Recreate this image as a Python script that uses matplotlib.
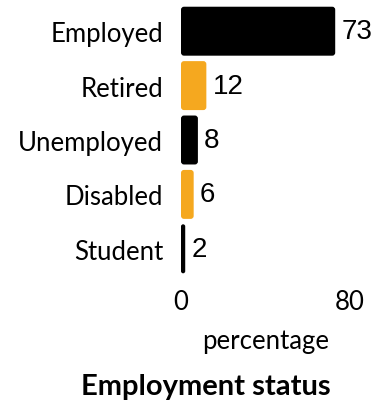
import numpy as np
import matplotlib.pyplot as plt
from matplotlib.patches import FancyBboxPatch

categories = ['Employed', 'Retired', 'Unemployed', 'Disabled', 'Student']
values = [73, 12, 8, 6, 2]
colors = ['#000000', '#F5A81F', '#000000', '#F5A81F', '#000000']

W, H = 380, 402
fig = plt.figure(figsize=(W / 100, H / 100), dpi=100)
ax = fig.add_axes([181 / W, 1 - 277 / H, (350 - 181) / W, 272 / H])

y = np.arange(len(categories))
bars = ax.barh(y, values, height=0.9, color=colors)
ax.set_xlim(0, 80)
ax.set_ylim(len(categories) - 0.5, -0.5)

# swap the plain rectangles for rounded ones
px_x = (350 - 181) / 80
px_y = 272 / 5
for b in bars:
    x0, y0 = b.get_x(), b.get_y()
    w, h = b.get_width(), b.get_height()
    r = min(3 / px_x, w / 2)
    p = FancyBboxPatch((x0, y0), w, h,
                       boxstyle=f"round,pad=0,rounding_size={r}",
                       mutation_aspect=px_x / px_y,
                       fc=b.get_facecolor(), ec='none')
    b.set_visible(False)
    ax.add_patch(p)

for yi, v in zip(y, values):
    ax.text(v + 3.0, yi, str(v), va='center', ha='left',
            fontsize=20, family='Liberation Sans', color='black')

ax.set_yticks(y)
ax.set_yticklabels(categories, fontsize=18.5, family='Lato')
ax.set_xticks([0, 80])
ax.set_xticklabels(['0', '80'], fontsize=18.5, family='Lato')
ax.tick_params(axis='y', length=0, pad=13)
ax.tick_params(axis='x', length=0, pad=9)
for s in ax.spines.values():
    s.set_visible(False)

fig.text(266 / W, 1 - 342 / H, 'percentage', ha='center', va='center',
         fontsize=18.5, family='Lato')
fig.text(206 / W, 1 - 387 / H, 'Employment status', ha='center', va='center',
         fontsize=21, family='Lato', fontweight='bold')

fig.savefig('out.png', dpi=100)
